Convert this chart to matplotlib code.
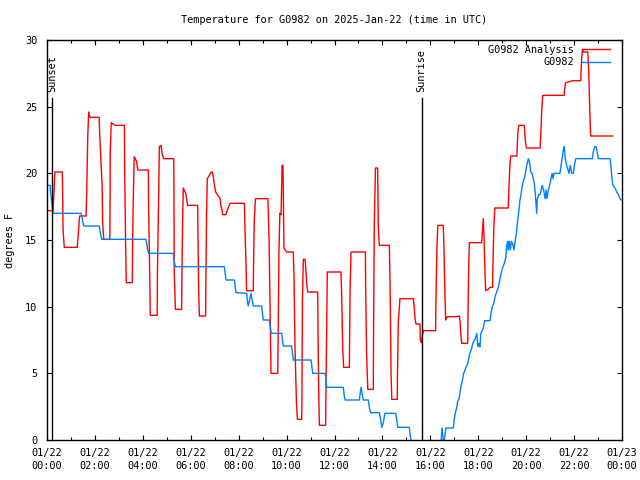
import matplotlib
matplotlib.use("Agg")
import matplotlib.pyplot as plt

# ---------------- data (hours since 2025-01-22 00:00 UTC, deg F) ----------------
analysis_hours = [0.00, 0.25, 0.29, 0.33, 0.64, 0.67, 0.72, 1.26, 1.29, 1.34, 1.36, 1.63, 1.66, 1.70, 1.74,
                  1.79, 2.18, 2.19, 2.24, 2.30, 2.32, 2.37, 2.62, 2.63, 2.64, 2.68, 2.85, 3.23, 3.24, 3.28,
                  3.31, 3.56, 3.57, 3.60, 3.64, 3.74, 3.79, 4.23, 4.24, 4.29, 4.31, 4.60, 4.61, 4.65, 4.69,
                  4.76, 4.80, 4.87, 5.29, 5.30, 5.31, 5.36, 5.62, 5.63, 5.66, 5.69, 5.79, 5.87, 6.29, 6.30,
                  6.33, 6.36, 6.62, 6.63, 6.66, 6.69, 6.76, 6.85, 6.90, 6.94, 6.98, 7.04, 7.23, 7.26, 7.29,
                  7.33, 7.47, 7.50, 7.57, 7.64, 8.24, 8.26, 8.31, 8.33, 8.61, 8.62, 8.65, 8.70, 9.22, 9.27,
                  9.35, 9.63, 9.65, 9.68, 9.72, 9.77, 9.81, 9.85, 9.89, 10.00, 10.28, 10.31, 10.35, 10.41,
                  10.45, 10.63, 10.64, 10.66, 10.70, 10.77, 10.80, 10.84, 10.88, 11.30, 11.31, 11.34, 11.37,
                  11.63, 11.64, 11.68, 11.70, 12.27, 12.30, 12.34, 12.38, 12.62, 12.63, 12.65, 12.69, 13.29,
                  13.30, 13.34, 13.39, 13.62, 13.63, 13.66, 13.71, 13.80, 13.81, 13.83, 13.87, 14.29, 14.32,
                  14.36, 14.39, 14.62, 14.63, 14.66, 14.73, 15.29, 15.32, 15.36, 15.40, 15.57, 15.58, 15.62,
                  15.68, 15.72, 16.22, 16.23, 16.27, 16.31, 16.54, 16.57, 16.61, 16.64, 16.71, 17.07, 17.21,
                  17.24, 17.28, 17.31, 17.56, 17.57, 17.60, 17.63, 18.14, 18.17, 18.21, 18.24, 18.28, 18.31,
                  18.42, 18.49, 18.60, 18.61, 18.65, 18.69, 19.25, 19.27, 19.31, 19.35, 19.61, 19.65, 19.69,
                  19.92, 19.96, 20.01, 20.58, 20.61, 20.65, 20.69, 21.59, 21.60, 21.65, 21.94, 22.28, 22.29,
                  22.32, 22.35, 22.39, 22.57, 22.61, 22.66, 22.69, 23.61]
analysis_temps = [17.2, 17.2, 18.5, 20.1, 20.1, 15.8, 14.45, 14.45, 15.1, 16.3, 16.8, 16.8, 18.75, 22.7, 24.6,
                  24.2, 24.2, 23.3, 21.4, 19.1, 16.4, 15.05, 15.05, 17.25, 21.6, 23.8, 23.6, 23.6, 20.6, 14.8,
                  11.8, 11.8, 14.2, 18.0, 21.25, 20.9, 20.25, 20.25, 17.5, 12.1, 9.35, 9.35, 12.45, 17.0, 22.0,
                  22.1, 21.5, 21.1, 21.1, 18.3, 12.6, 9.8, 9.8, 12.1, 16.6, 18.9, 18.5, 17.6, 17.6, 15.5,
                  11.3, 9.3, 9.3, 11.9, 17.0, 19.6, 19.8, 20.1, 20.1, 19.75, 19.2, 18.6, 18.1, 17.5, 17.4,
                  16.9, 16.9, 17.1, 17.45, 17.75, 17.75, 16.1, 12.9, 11.2, 11.2, 12.9, 16.4, 18.1, 18.1, 15.0,
                  5.0, 5.0, 8.1, 14.0, 17.0, 16.9, 20.6, 20.6, 14.4, 14.1, 14.1, 12.25, 7.0, 2.9,
                  1.55, 1.55, 3.0, 10.5, 13.55, 13.55, 12.9, 11.75, 11.1, 11.1, 8.5, 3.6, 1.1,
                  1.1, 3.25, 9.75, 12.6, 12.6, 10.75, 7.1, 5.45, 5.45, 7.25, 11.25, 14.1, 14.1,
                  11.5, 6.4, 3.8, 3.8, 7.9, 16.1, 20.4, 20.4, 18.9, 15.9, 14.6, 14.6, 11.6,
                  5.0, 3.05, 3.05, 5.0, 8.75, 10.6, 10.6, 10.1, 9.1, 8.7, 8.7, 7.5, 7.3,
                  8.0, 8.2, 8.2, 10.1, 14.1, 16.1, 16.1, 14.3, 10.75, 9.0, 9.25, 9.25, 9.3,
                  8.9, 7.8, 7.25, 7.25, 9.2, 12.9, 14.8, 14.8, 15.5, 16.6, 15.25, 12.6, 11.2,
                  11.3, 11.45, 11.45, 12.9, 15.9, 17.4, 17.4, 18.4, 20.25, 21.3, 21.3, 23.0, 23.6,
                  23.6, 22.5, 21.9, 21.9, 22.9, 24.75, 25.85, 25.85, 26.3, 26.8, 26.95, 26.95, 27.6,
                  28.75, 29.25, 29.1, 29.1, 27.75, 24.4, 22.8, 22.8]

obs_hours = [0.00, 0.13, 0.14, 0.17, 0.20, 0.26, 1.42, 1.45, 1.49, 1.54, 2.18, 2.21, 2.24, 2.28, 4.13, 4.16,
             4.20, 4.24, 5.27, 5.31, 5.36, 7.40, 7.43, 7.47, 7.82, 7.85, 7.89, 8.34, 8.36, 8.40, 8.47, 8.52,
             8.56, 8.61, 8.96, 8.99, 9.03, 9.28, 9.31, 9.36, 9.80, 9.82, 9.86, 10.21, 10.24, 10.28, 11.02,
             11.05, 11.09, 11.60, 11.65, 11.67, 12.37, 12.40, 12.44, 13.04, 13.07, 13.11, 13.15, 13.20,
             13.41, 13.45, 13.51, 13.87, 13.93, 13.97, 14.04, 14.10, 14.55, 14.60, 14.64, 15.12, 15.15,
             15.19, 15.24, 15.36, 16.36, 16.45, 16.49, 16.54, 16.58, 16.65, 16.96, 17.00, 17.04, 17.10,
             17.14, 17.20, 17.24, 17.29, 17.35, 17.39, 17.45, 17.49, 17.54, 17.59, 17.63, 17.73, 17.77,
             17.88, 17.94, 17.98, 18.03, 18.07, 18.11, 18.21, 18.27, 18.49, 18.53, 18.59, 18.65, 18.70,
             18.75, 18.81, 18.87, 18.92, 18.98, 19.03, 19.09, 19.15, 19.19, 19.23, 19.25, 19.29, 19.34,
             19.38, 19.44, 19.49, 19.53, 19.59, 19.65, 19.70, 19.74, 19.77, 19.83, 19.88, 19.94, 19.99,
             20.04, 20.09, 20.15, 20.19, 20.24, 20.30, 20.34, 20.38, 20.41, 20.44, 20.46, 20.52, 20.58,
             20.63, 20.67, 20.73, 20.79, 20.83, 20.87, 20.92, 20.98, 21.04, 21.08, 21.12, 21.16, 21.41,
             21.45, 21.51, 21.55, 21.59, 21.63, 21.69, 21.75, 21.79, 21.84, 21.90, 21.97, 22.01, 22.07,
             22.76, 22.80, 22.86, 22.92, 22.96, 23.01, 23.50, 23.54, 23.58, 23.62, 23.71, 23.78, 23.85,
             23.92, 23.96]
obs_temps = [19.1, 19.1, 18.75, 18.25, 17.75, 17.0, 17.0, 16.8, 16.4, 16.05, 16.05, 15.75, 15.4, 15.05, 15.05, 14.75,
             14.3, 14.0, 14.0, 13.4, 13.0, 13.0, 12.6, 12.0, 12.0, 11.55, 11.05, 11.0, 10.5, 10.05, 10.6, 11.0,
             10.5, 10.05, 10.05, 9.5, 9.0, 9.0, 8.6, 8.0, 8.0, 7.6, 7.05, 7.05, 6.6, 6.0, 6.0,
             5.6, 5.0, 5.0, 4.6, 3.95, 3.95, 3.4, 3.0, 3.0, 3.5, 3.95, 3.5, 3.0,
             3.0, 2.5, 2.05, 2.05, 1.5, 0.95, 1.3, 2.0, 2.0, 1.5, 0.95, 0.95, 0.5,
             0.0, -0.5, -1.0, -1.0, 0.0, 0.9, 0.0, 0.0, 0.9, 0.9, 1.6, 2.0, 2.4,
             2.9, 3.1, 3.6, 4.1, 4.6, 5.0, 5.25, 5.5, 5.6, 6.0, 6.4, 6.9, 7.25,
             7.6, 8.0, 7.0, 7.25, 7.0, 8.0, 8.4, 8.95, 8.95, 9.5, 10.0, 10.25, 10.75,
             11.0, 11.3, 11.7, 12.2, 12.7, 13.0, 13.25, 13.7, 14.6, 14.9, 14.25, 14.9, 14.25,
             14.9, 14.7, 14.25, 14.8, 15.5, 16.5, 17.25, 18.0, 18.25, 19.0, 19.4, 19.75, 20.25,
             20.75, 21.1, 20.75, 20.1, 20.0, 19.6, 19.25, 18.5, 17.75, 17.0, 18.0, 18.4, 18.4,
             18.75, 19.1, 18.75, 18.1, 18.75, 18.1, 18.75, 19.1, 19.6, 20.0, 19.6, 20.0, 20.0,
             20.5, 21.3, 21.75, 22.0, 21.1, 20.6, 20.25, 20.0, 20.6, 20.0, 20.0, 20.6, 21.1,
             21.1, 21.6, 22.0, 22.0, 21.6, 21.1, 21.1, 20.5, 19.6, 19.1, 18.9, 18.6, 18.4,
             18.1, 18.0]

sun_events = ["Sunset", "Sunrise"]
sun_hours = [0.20, 15.64]

series_labels = ["G0982 Analysis", "G0982"]
x_tick_hours = [0, 2, 4, 6, 8, 10, 12, 14, 16, 18, 20, 22, 24]
x_tick_labels = ["01/22\n00:00", "01/22\n02:00", "01/22\n04:00", "01/22\n06:00", "01/22\n08:00",
                 "01/22\n10:00", "01/22\n12:00", "01/22\n14:00", "01/22\n16:00", "01/22\n18:00",
                 "01/22\n20:00", "01/22\n22:00", "01/23\n00:00"]
y_ticks = [0, 5, 10, 15, 20, 25, 30]
title_text = "Temperature for G0982 on 2025-Jan-22 (time in UTC)"
y_label_text = "degrees F"

# ---------------- figure ----------------
FS = 7.4
plt.rcParams['font.family'] = ['DejaVu Sans Mono']
plt.rcParams['font.size'] = FS

fig = plt.figure(figsize=(6.4, 4.8), dpi=100)
ax = fig.add_axes([47/640, 40/480, 575/640, 400/480])

ax.plot(analysis_hours, analysis_temps, color='#ff0000', lw=1.0, label=series_labels[0])
ax.plot(obs_hours, obs_temps, color='#0080ff', lw=1.0, label=series_labels[1])

ax.set_xlim(0, 24)
ax.set_ylim(0, 30)

# sunrise / sunset markers
for name, h in zip(sun_events, sun_hours):
    ax.plot([h, h], [0, 25.65], color='black', lw=1.0)
    ax.text(h, 26.1, name, rotation=90, ha='center', va='bottom', fontsize=FS)

ax.set_xticks(x_tick_hours)
ax.set_xticklabels(x_tick_labels, linespacing=1.4)
ax.set_xticks(range(1, 24, 2), minor=True)
ax.set_yticks(y_ticks)
ax.set_yticklabels([str(v) for v in y_ticks])

ax.tick_params(axis='both', which='major', direction='in', length=3.5, width=0.8,
               top=True, right=True, labelsize=FS, colors='black')
ax.tick_params(axis='x', which='major', pad=5.5)
ax.tick_params(axis='y', which='major', pad=7)
ax.tick_params(axis='x', which='minor', direction='in', length=2, width=0.8, top=True)
for sp in ax.spines.values():
    sp.set_linewidth(1.0)
    sp.set_color('black')

ax.set_title(title_text, fontsize=FS, pad=12)
ax.set_ylabel(y_label_text, fontsize=FS, va='center')
ax.yaxis.set_label_coords(-37/575, 0.5)

leg = ax.legend(loc='upper right', bbox_to_anchor=(0.979, 0.988), markerfirst=False,
                frameon=False, handlelength=2.72, handletextpad=0.78, borderpad=0,
                borderaxespad=0, labelspacing=0.25, fontsize=FS)

fig.savefig('out.png', dpi=100)
